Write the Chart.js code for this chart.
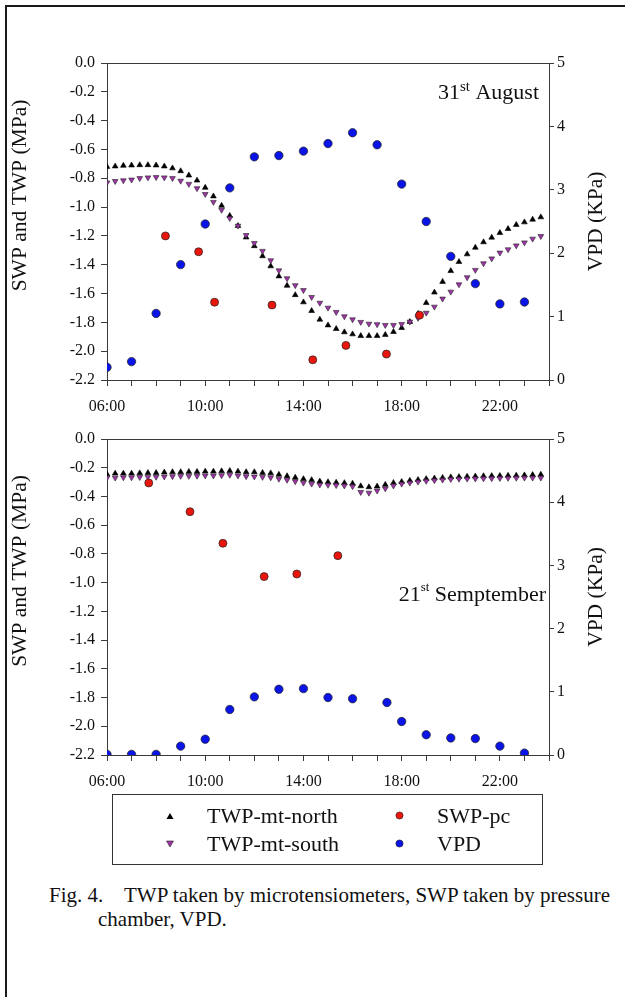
<!DOCTYPE html>
<html>
<head>
<meta charset="utf-8">
<script src="https://cdn.jsdelivr.net/npm/chart.js@4.4.1/dist/chart.umd.min.js"></script>
<style>
  html, body { margin: 0; padding: 0; background: #fff; }
  body { width: 625px; height: 997px; position: relative; overflow: hidden;
         font-family: "Liberation Serif", "Times New Roman", serif; color: #111; }
  .frame { position: absolute; left: 5px; top: 5px; width: 700px; height: 1100px;
           border-left: 2px solid #1a1a1a; border-top: 2px solid #1a1a1a; }
  canvas { position: absolute; left: 0; }
  #topChart { top: 0; }
  #bottomChart { top: 420px; }
  .legend { position: absolute; left: 112px; top: 794px; width: 431px; height: 71px;
            border: 1px solid #333; box-sizing: border-box; }
  .item { position: absolute; font-size: 22px; line-height: 24px; white-space: nowrap; }
  .mark { position: absolute; }
  .caption { position: absolute; left: 49px; top: 883px; font-size: 21px; line-height: 24px; white-space: nowrap; }
  .caption .fig { display: inline-block; width: 75px; }
  .caption .l2 { padding-left: 49px; }
</style>
</head>
<body>
<div class="frame"></div>
<canvas id="topChart" width="625" height="420"></canvas>
<canvas id="bottomChart" width="625" height="380"></canvas>

<div class="legend">
  <svg class="mark" style="left:53px;top:17px" width="8" height="8"><polygon points="4,1 7.5,7 0.5,7" fill="#000"/></svg>
  <div class="item" style="left:94px;top:9px">TWP-mt-north</div>
  <svg class="mark" style="left:53px;top:45px" width="8" height="8"><polygon points="0.5,1 7.5,1 4,7" fill="#a033a8" stroke="#222" stroke-width="0.6"/></svg>
  <div class="item" style="left:94px;top:37px">TWP-mt-south</div>
  <svg class="mark" style="left:282px;top:16px" width="9" height="9"><circle cx="4.5" cy="4.5" r="3.6" fill="#e8160c" stroke="#222" stroke-width="0.6"/></svg>
  <div class="item" style="left:324px;top:9px">SWP-pc</div>
  <svg class="mark" style="left:282px;top:44px" width="9" height="9"><circle cx="4.5" cy="4.5" r="3.6" fill="#0a14e6" stroke="#222" stroke-width="0.6"/></svg>
  <div class="item" style="left:324px;top:37px">VPD</div>
</div>

<div class="caption">
  <div class="l1"><span class="fig">Fig. 4.</span>TWP taken by microtensiometers, SWP taken by pressure</div>
  <div class="l2">chamber, VPD.</div>
</div>

<script>
// microtensiometer readings every 20 min
const twpTimes = [
  '6:00','6:20','6:40','7:00','7:20','7:40','8:00','8:20','8:40',
  '9:00','9:20','9:40','10:00','10:20','10:40','11:00','11:20','11:40',
  '12:00','12:20','12:40','13:00','13:20','13:40','14:00','14:20','14:40',
  '15:00','15:20','15:40','16:00','16:20','16:40','17:00','17:20','17:40',
  '18:00','18:20','18:40','19:00','19:20','19:40','20:00','20:20','20:40',
  '21:00','21:20','21:40','22:00','22:20','22:40','23:00','23:20','23:40'
];

// 31st August
const augNorth = [
  -0.72, -0.717, -0.712, -0.71, -0.708, -0.708, -0.71, -0.717, -0.73,
  -0.75, -0.78, -0.815, -0.865, -0.925, -0.99, -1.06, -1.13, -1.21,
  -1.27, -1.34, -1.41, -1.48, -1.545, -1.61, -1.66, -1.72, -1.78,
  -1.82, -1.845, -1.868, -1.882, -1.894, -1.894, -1.894, -1.886, -1.866,
  -1.838, -1.796, -1.74, -1.665, -1.592, -1.518, -1.443, -1.38, -1.327,
  -1.281, -1.243, -1.211, -1.179, -1.151, -1.123, -1.105, -1.086, -1.07
];
const augSouth = [
  -0.83, -0.82, -0.815, -0.81, -0.80, -0.795, -0.793, -0.795, -0.80,
  -0.818, -0.84, -0.87, -0.91, -0.965, -1.02, -1.077, -1.13, -1.195,
  -1.25, -1.305, -1.37, -1.44, -1.495, -1.543, -1.577, -1.625, -1.665,
  -1.699, -1.729, -1.759, -1.78, -1.798, -1.81, -1.814, -1.819, -1.819,
  -1.812, -1.796, -1.77, -1.734, -1.692, -1.636, -1.588, -1.537, -1.488,
  -1.437, -1.391, -1.357, -1.317, -1.294, -1.267, -1.246, -1.22, -1.202
];
const augSwpTimes = [8.38, 9.73, 10.38, 12.72, 14.38, 15.73, 17.38, 18.73];
const augSwp = [-1.20, -1.31, -1.66, -1.68, -2.06, -1.96, -2.02, -1.75];
const augVpdTimes = [6, 7, 8, 9, 10, 11, 12, 13, 14, 15, 16, 17, 18, 19, 20, 21, 22, 23];
const augVpd = [0.2, 0.29, 1.05, 1.82, 2.46, 3.03, 3.52, 3.54, 3.61, 3.73, 3.9, 3.71, 3.09, 2.5, 1.95, 1.52, 1.2, 1.23];

// 21st September
const sepNorth = [
  -0.245, -0.24, -0.24, -0.24, -0.238, -0.236, -0.236, -0.232, -0.23,
  -0.23, -0.228, -0.228, -0.226, -0.226, -0.224, -0.222, -0.226, -0.23,
  -0.23, -0.235, -0.238, -0.248, -0.258, -0.268, -0.278, -0.285, -0.295,
  -0.30, -0.303, -0.306, -0.31, -0.328, -0.335, -0.33, -0.318, -0.305,
  -0.298, -0.29, -0.284, -0.278, -0.274, -0.27, -0.266, -0.264, -0.262,
  -0.26, -0.258, -0.257, -0.256, -0.255, -0.254, -0.252, -0.25, -0.248
];
const sepSouth = [
  -0.27, -0.27, -0.268, -0.268, -0.266, -0.265, -0.264, -0.262, -0.26,
  -0.258, -0.258, -0.257, -0.255, -0.255, -0.253, -0.25, -0.255, -0.26,
  -0.262, -0.265, -0.268, -0.278, -0.285, -0.295, -0.305, -0.312, -0.318,
  -0.32, -0.322, -0.325, -0.33, -0.37, -0.375, -0.36, -0.345, -0.325,
  -0.312, -0.305, -0.298, -0.292, -0.288, -0.284, -0.28, -0.278, -0.277,
  -0.276, -0.275, -0.274, -0.273, -0.272, -0.271, -0.27, -0.27, -0.27
];
const sepSwpTimes = [7.7, 9.38, 10.72, 12.4, 13.73, 15.4];
const sepSwp = [-0.306, -0.506, -0.726, -0.958, -0.94, -0.812];
const sepVpdTimes = [6, 7, 8, 9, 10, 11, 12, 13, 14, 15, 16, 17.4, 18, 19, 20, 21, 22, 23];
const sepVpd = [0.01, 0.01, 0.01, 0.14, 0.25, 0.72, 0.92, 1.04, 1.05, 0.91, 0.89, 0.83, 0.53, 0.32, 0.27, 0.26, 0.14, 0.03];

const hourTicks = [6, 10, 14, 18, 22];
const hourTickLabels = ['06:00', '10:00', '14:00', '18:00', '22:00'];

const FONT = '"Liberation Serif", "Times New Roman", serif';
const axisColor = '#3a3a3a';

function toHours(s) {
  const [h, m] = s.split(':').map(Number);
  return h + m / 60;
}

function pts(xs, ys) {
  return ys.map((y, i) => ({ x: typeof xs[i] === 'string' ? toHours(xs[i]) : xs[i], y: y }));
}

// frame top line, axis titles and the date label
const panelDeco = {
  id: 'panelDeco',
  beforeDatasetsDraw(chart) {
    const { ctx, chartArea: a } = chart;
    ctx.save();
    ctx.strokeStyle = axisColor;
    ctx.lineWidth = 1;
    ctx.beginPath();
    ctx.moveTo(a.left, Math.round(a.top) + 0.5);
    ctx.lineTo(a.right, Math.round(a.top) + 0.5);
    ctx.stroke();
    ctx.restore();
  },
  afterDraw(chart, args, o) {
    const { ctx, chartArea: a } = chart;
    const mid = (a.top + a.bottom) / 2;
    ctx.save();
    ctx.fillStyle = '#111';
    ctx.font = '21.5px ' + FONT;
    ctx.textAlign = 'center';
    ctx.textBaseline = 'middle';

    ctx.save();
    ctx.translate(20, mid + o.leftShift);
    ctx.rotate(-Math.PI / 2);
    ctx.fillText('SWP and TWP (MPa)', 0, 0);
    ctx.restore();

    ctx.save();
    ctx.translate(596, mid);
    ctx.rotate(-Math.PI / 2);
    ctx.fillText('VPD (KPa)', 0, 0);
    ctx.restore();

    // "31st August" style label, right aligned
    ctx.textAlign = 'left';
    ctx.textBaseline = 'alphabetic';
    ctx.font = '22px ' + FONT;
    const w1 = ctx.measureText(o.day).width;
    const w3 = ctx.measureText(' ' + o.month).width;
    ctx.font = o.supSize + 'px ' + FONT;
    const w2 = ctx.measureText(o.suffix).width;
    let x = o.right - (w1 + w2 + w3);
    const base = a.top + o.baseline;
    ctx.font = '22px ' + FONT;
    ctx.fillText(o.day, x, base);
    x += w1;
    ctx.font = o.supSize + 'px ' + FONT;
    ctx.fillText(o.suffix, x, base - o.supRaise);
    x += w2;
    ctx.font = '22px ' + FONT;
    ctx.fillText(' ' + o.month, x, base);
    ctx.restore();
  }
};

function drawPanel(canvasId, north, south, swpTimes, swp, vpdTimes, vpd, padTop, xHeight, deco) {
  new Chart(document.getElementById(canvasId), {
    type: 'scatter',
    data: {
      datasets: [
        {
          label: 'SWP-pc', data: pts(swpTimes, swp), yAxisID: 'y', order: 0,
          pointStyle: 'circle', pointRadius: 4, pointHoverRadius: 4,
          backgroundColor: '#e8160c', borderColor: '#222', borderWidth: 0.7
        },
        {
          label: 'VPD', data: pts(vpdTimes, vpd), yAxisID: 'y1', order: 1,
          pointStyle: 'circle', pointRadius: 4.2, pointHoverRadius: 4.2,
          backgroundColor: '#0a14e6', borderColor: '#222', borderWidth: 0.7
        },
        {
          label: 'TWP-mt-south', data: pts(twpTimes, south), yAxisID: 'y', order: 2,
          pointStyle: 'triangle', pointRotation: 180, pointRadius: 3.3, pointHoverRadius: 3.3,
          backgroundColor: '#a033a8', borderColor: '#222', borderWidth: 0.6
        },
        {
          label: 'TWP-mt-north', data: pts(twpTimes, north), yAxisID: 'y', order: 3,
          pointStyle: 'triangle', pointRadius: 3.3, pointHoverRadius: 3.3,
          backgroundColor: '#000', borderColor: '#000', borderWidth: 0.6
        }
      ]
    },
    options: {
      responsive: false,
      animation: false,
      events: [],
      layout: { padding: { top: padTop, left: 0, right: 0, bottom: 0 } },
      plugins: {
        legend: { display: false },
        tooltip: { enabled: false },
        panelDeco: deco
      },
      scales: {
        x: {
          type: 'linear', min: 6, max: 24,
          afterFit: (s) => { s.height = xHeight; },
          grid: { display: true, drawOnChartArea: false, drawTicks: true, tickLength: 6, color: axisColor },
          border: { display: true, color: axisColor },
          ticks: {
            stepSize: 1, autoSkip: false, maxRotation: 0, padding: 11,
            color: '#111', font: { family: FONT, size: 16 },
            callback: (v) => {
              const i = hourTicks.indexOf(v);
              return i < 0 ? '' : hourTickLabels[i];
            }
          }
        },
        y: {
          position: 'left', min: -2.2, max: 0,
          afterFit: (s) => { s.width = 107; },
          grid: { display: true, drawOnChartArea: false, drawTicks: true, tickLength: 6, color: axisColor },
          border: { display: true, color: axisColor },
          ticks: {
            stepSize: 0.2, padding: 6, color: '#111', font: { family: FONT, size: 16 },
            callback: (v) => (Math.abs(v) < 1e-9 ? '0.0' : v.toFixed(1))
          }
        },
        y1: {
          position: 'right', min: 0, max: 5,
          afterFit: (s) => { s.width = 76; },
          grid: { display: true, drawOnChartArea: false, drawTicks: true, tickLength: 5, color: axisColor },
          border: { display: true, color: axisColor },
          ticks: { stepSize: 1, padding: 3, color: '#111', font: { family: FONT, size: 16 } }
        }
      }
    },
    plugins: [panelDeco]
  });
}

drawPanel('topChart', augNorth, augSouth, augSwpTimes, augSwp, augVpdTimes, augVpd, 63, 40,
  { leftShift: -26, day: '31', suffix: 'st', month: 'August', right: 539, baseline: 36, supSize: 15, supRaise: 8 });
drawPanel('bottomChart', sepNorth, sepSouth, sepSwpTimes, sepSwp, sepVpdTimes, sepVpd, 19, 45,
  { leftShift: -26, day: '21', suffix: 'st', month: 'Semptember', right: 546, baseline: 162, supSize: 13, supRaise: 10 });
</script>
</body>
</html>
